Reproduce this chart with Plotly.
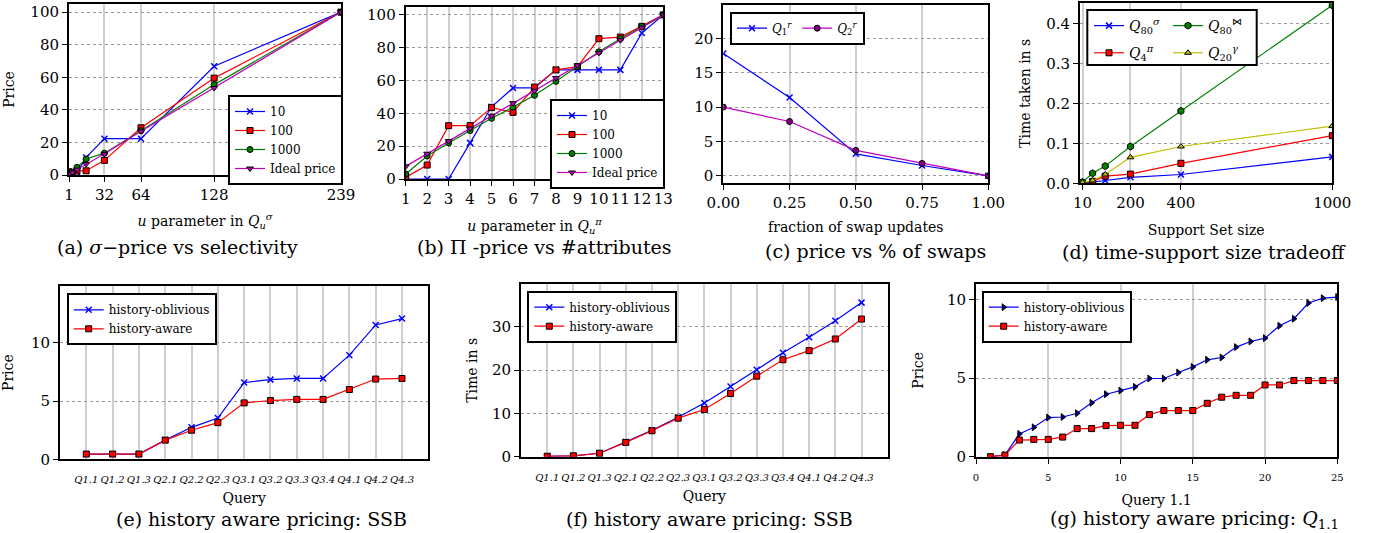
import plotly.graph_objects as go

W, H = 1375, 533
FONT = "DejaVu Serif"

# ---------------- data ----------------
# (a) sigma-price vs selectivity
a_u = [1, 4, 8, 16, 32, 64, 128, 239]
a_10 = [0.5, 0.5, 1.5, 10.8, 22.3, 22.3, 66.8, 100]
a_100 = [2.0, 1.0, 2.5, 2.6, 9.0, 29.0, 59.5, 100]
a_1000 = [1.5, 1.6, 4.7, 9.8, 13.4, 27.2, 55.5, 100]
a_ideal = [0.4, 1.6, 3.3, 6.7, 13.0, 26.8, 53.4, 100]

# (b) Pi-price vs #attributes
b_u = [1, 2, 3, 4, 5, 6, 7, 8, 9, 10, 11, 12, 13]
b_10 = [0, 0, 0, 22, 44, 55.5, 55.5, 66.5, 66.5, 66.5, 66.5, 89, 100]
b_100 = [1, 8.5, 32.5, 32.5, 43.5, 40.6, 56, 66.5, 68.5, 85.5, 86.5, 93, 100]
b_1000 = [3, 14, 22, 29.5, 37, 43.8, 51, 59.5, 68.5, 77.5, 85.5, 93, 100]
b_ideal = [7.7, 15.4, 23.1, 30.8, 38.5, 46.2, 53.8, 61.5, 69.2, 76.9, 84.6, 92.3, 100]

# (c) price vs % of swaps
c_frac = [0.0, 0.25, 0.5, 0.75, 1.0]
c_q1 = [17.8, 11.4, 3.2, 1.5, 0.0]
c_q2 = [10.0, 7.9, 3.7, 1.8, 0.0]

# (d) time-support size tradeoff
d_size = [10, 50, 100, 200, 400, 1000]
d_sigma = [0.002, 0.003, 0.007, 0.015, 0.022, 0.066]
d_pi = [0.002, 0.005, 0.018, 0.023, 0.050, 0.119]
d_join = [0.003, 0.025, 0.043, 0.092, 0.181, 0.445]
d_gamma = [0.002, 0.007, 0.022, 0.065, 0.092, 0.143]

# (e), (f) SSB queries
queries = ["Q1.1", "Q1.2", "Q1.3", "Q2.1", "Q2.2", "Q2.3", "Q3.1",
           "Q3.2", "Q3.3", "Q3.4", "Q4.1", "Q4.2", "Q4.3"]
e_obl = [0.45, 0.45, 0.45, 1.65, 2.75, 3.55, 6.6, 6.85, 6.95, 6.95, 8.95, 11.55, 12.1]
e_aw = [0.45, 0.45, 0.45, 1.65, 2.5, 3.15, 4.85, 5.05, 5.15, 5.15, 6.0, 6.9, 6.95]
f_obl = [0.1, 0.2, 0.8, 3.4, 6.1, 9.1, 12.4, 16.2, 20.1, 24.0, 27.6, 31.4, 35.6]
f_aw = [0.1, 0.2, 0.8, 3.3, 6.0, 8.9, 10.9, 14.6, 18.6, 22.4, 24.5, 27.2, 31.8]

# (g) history aware pricing Q1.1
g_q = list(range(1, 26))
g_obl = [0.0, 0.1, 1.45, 1.87, 2.49, 2.53, 2.77, 3.43, 3.98, 4.21, 4.45, 4.98, 4.98,
         5.36, 5.72, 6.17, 6.32, 6.98, 7.34, 7.55, 8.34, 8.79, 9.79, 10.1, 10.17]
g_aw = [0.0, 0.1, 1.06, 1.1, 1.1, 1.25, 1.79, 1.79, 1.98, 2.0, 2.0, 2.68, 2.94,
        2.94, 2.94, 3.4, 3.79, 3.91, 3.91, 4.57, 4.57, 4.85, 4.85, 4.85, 4.85]

# ---------------- styles ----------------
BLUE, RED, GREEN, MAG, YEL = "#0000ff", "#ff0000", "#008000", "#bf00bf", "#bfbf00"


def px_x(p):
    return p / W


def px_y(p):
    return 1 - p / H


def mk_x(color):
    return dict(mode="lines+markers", line=dict(color=color, width=1.2),
                marker=dict(symbol="x-thin", size=6, line=dict(color=color, width=1.5)))


def mk_f(color, symbol, fill=None, size=6):
    return dict(mode="lines+markers", line=dict(color=color, width=1.2),
                marker=dict(symbol=symbol, size=size, color=fill or color,
                            line=dict(color="black", width=1)))


fig = go.Figure()


def axes(n):
    return ("x" if n == 1 else f"x{n}"), ("y" if n == 1 else f"y{n}")


def add(n, x, y, name, style, legend, group=None):
    xa, ya = axes(n)
    kw = {}
    if group:
        kw["legendgroup"] = group
    fig.add_trace(go.Scatter(x=x, y=y, name=name, xaxis=xa, yaxis=ya,
                             legend=legend, **kw, **style))


# (a)
add(1, a_u, a_10, "10", mk_x(BLUE), "legend")
add(1, a_u, a_100, "100", mk_f(RED, "square"), "legend")
add(1, a_u, a_1000, "1000", mk_f(GREEN, "circle"), "legend")
add(1, a_u, a_ideal, "Ideal price", mk_f(MAG, "triangle-down"), "legend")
# (b)
add(2, b_u, b_10, "10", mk_x(BLUE), "legend2")
add(2, b_u, b_100, "100", mk_f(RED, "square"), "legend2")
add(2, b_u, b_1000, "1000", mk_f(GREEN, "circle"), "legend2")
add(2, b_u, b_ideal, "Ideal price", mk_f(MAG, "triangle-down"), "legend2")
# (c)
add(3, c_frac, c_q1, "<i>Q</i><sub>1</sub><sup><i>r</i></sup>", mk_x(BLUE), "legend3")
add(3, c_frac, c_q2, "<i>Q</i><sub>2</sub><sup><i>r</i></sup>", mk_f(MAG, "circle", "#800080"), "legend3")
# (d)
add(4, d_size, d_sigma, "<i>Q</i><sub>80</sub><sup><i>σ</i></sup>", mk_x(BLUE), "legend4", "s")
add(4, d_size, d_pi, "<i>Q</i><sub>4</sub><sup><i>π</i></sup>", mk_f(RED, "square"), "legend4", "p")
add(4, d_size, d_join, "<i>Q</i><sub>80</sub><sup>⋈</sup>", mk_f(GREEN, "hexagon", size=7), "legend5", "j")
add(4, d_size, d_gamma, "<i>Q</i><sub>20</sub><sup><i>γ</i></sup>", mk_f(YEL, "triangle-up"), "legend5", "g")
# (e)
add(5, queries, e_obl, "history-oblivious", mk_x(BLUE), "legend6")
add(5, queries, e_aw, "history-aware", mk_f(RED, "square"), "legend6")
# (f)
add(6, queries, f_obl, "history-oblivious", mk_x(BLUE), "legend7")
add(6, queries, f_aw, "history-aware", mk_f(RED, "square"), "legend7")
# (g)
add(7, g_q, g_obl, "history-oblivious", mk_f(BLUE, "triangle-right", "#000080"), "legend8")
add(7, g_q, g_aw, "history-aware", mk_f(RED, "square"), "legend8")

# ---------------- axes ----------------
tickf = dict(family=FONT, size=15, color="black")
titlef = dict(family=FONT, size=14, color="black")
common = dict(showline=True, mirror=True, linecolor="black", linewidth=2,
              ticks="outside", ticklen=5, tickwidth=1.2, tickcolor="black",
              zeroline=False, tickfont=tickf, title_font=titlef,
              automargin=False, tickangle=0)
xgrid = dict(showgrid=True, gridcolor="#cfcfcf", gridwidth=1.5)
ygrid = dict(showgrid=True, gridcolor="#999999", gridwidth=1, griddash="dot")

boxes = {
    1: (69, 341, 4, 175),
    2: (405.7, 663.3, 6.7, 179),
    3: (723.3, 988.3, 4.7, 182.7),
    4: (1080, 1332.3, 3.3, 183.3),
    5: (60, 428.3, 286, 459.3),
    6: (521, 887.7, 284, 456.7),
    7: (976, 1337.3, 284, 456.7),
}

small_it = dict(family=FONT, size=10, color="black", style="italic")
xcfg = {
    1: dict(range=[1, 239], tickvals=[1, 32, 64, 128, 239],
            title=dict(text="<i>u</i> parameter in <i>Q</i><sub><i>u</i></sub><sup><i>σ</i></sup>", standoff=13)),
    2: dict(range=[1, 13], dtick=1,
            title=dict(text="<i>u</i> parameter in <i>Q</i><sub><i>u</i></sub><sup><i>π</i></sup>", standoff=14)),
    3: dict(range=[0, 1], tickvals=[0, 0.25, 0.5, 0.75, 1.0], tickformat=".2f",
            title=dict(text="fraction of swap updates", standoff=11)),
    4: dict(range=[0, 1000], tickvals=[10, 200, 400, 1000],
            title=dict(text="Support Set size", standoff=14)),
    5: dict(type="category", range=[-1, 13], ticks="", ticklabelstandoff=10,
            tickfont=small_it, title=dict(text="Query", standoff=9)),
    6: dict(type="category", range=[-1, 13], ticks="", ticklabelstandoff=10,
            tickfont=small_it, title=dict(text="Query", standoff=9)),
    7: dict(range=[0, 25], dtick=5, ticklabelstandoff=5,
            tickfont=dict(family=FONT, size=10, color="black"),
            title=dict(text="Query 1.1", standoff=13)),
}
ycfg = {
    1: dict(range=[0, 105], dtick=20, title=dict(text="Price", standoff=12)),
    2: dict(range=[0, 105], dtick=20),
    3: dict(range=[-1, 24.9], dtick=5),
    4: dict(range=[0, 0.45], dtick=0.1, tickformat=".1f",
            title=dict(text="Time taken in s", standoff=12)),
    5: dict(range=[0, 14.9], dtick=5, title=dict(text="Price", standoff=20)),
    6: dict(range=[0, 39.9], dtick=10, title=dict(text="Time in s", standoff=11)),
    7: dict(range=[0, 11], dtick=5, title=dict(text="Price", standoff=20)),
}

layout_axes = {}
for n, (x0, x1, y0, y1) in boxes.items():
    xa, ya = axes(n)
    xname = "xaxis" if n == 1 else f"xaxis{n}"
    yname = "yaxis" if n == 1 else f"yaxis{n}"
    xd = dict(common); xd.update(xgrid); xd.update(xcfg[n])
    xd.update(domain=[px_x(x0), px_x(x1)], anchor=ya)
    yd = dict(common); yd.update(ygrid); yd.update(ycfg[n])
    yd.update(domain=[px_y(y1), px_y(y0)], anchor=xa)
    layout_axes[xname] = xd
    layout_axes[yname] = yd

fig.update_layout(template="none", **layout_axes)

# ---------------- legends ----------------


def leg(x, y, border=True, orientation="v", size=12, gap=0):
    d = dict(x=px_x(x), y=px_y(y), xanchor="left", yanchor="top",
             font=dict(family=FONT, size=size, color="black"),
             orientation=orientation, itemwidth=30,
             bgcolor="white" if border else "rgba(0,0,0,0)",
             bordercolor="black", borderwidth=2 if border else 0,
             tracegroupgap=gap)
    return d


fig.update_layout(
    legend=leg(228, 95),
    legend2=leg(550, 99),
    legend3=leg(730, 11.7, orientation="h"),
    legend4=leg(1089, 10, border=False, size=14, gap=6),
    legend5=leg(1168, 10, border=False, size=14, gap=6),
    legend6=leg(66.7, 293.3),
    legend7=leg(527.3, 290.7),
    legend8=leg(981.7, 290.7),
)

fig.add_shape(type="rect", xref="paper", yref="paper",
              x0=px_x(1087.3), x1=px_x(1256.7), y0=px_y(65), y1=px_y(10),
              line=dict(color="black", width=2), fillcolor="white", layer="above")

# ---------------- captions ----------------
captions = [
    (177, 247, "(a) <i>σ</i>−price vs selectivity"),
    (544, 247, "(b) Π -price vs #attributes"),
    (875, 251, "(c) price vs % of swaps"),
    (1204, 252, "(d) time-support size tradeoff"),
    (261, 519, "(e) history aware pricing: SSB"),
    (709, 519, "(f) history aware pricing: SSB"),
    (1194, 519, "(g) history aware pricing: <i>Q</i><sub>1.1</sub>"),
]
for cx, cy, txt in captions:
    fig.add_annotation(x=px_x(cx), y=px_y(cy), xref="paper", yref="paper",
                       text=txt, showarrow=False, xanchor="center", yanchor="middle",
                       font=dict(family=FONT, size=19, color="black"))

fig.update_layout(width=W, height=H, margin=dict(l=0, r=0, t=0, b=0, pad=0),
                  paper_bgcolor="white", plot_bgcolor="white", showlegend=True)

fig.write_html("out.html", config={"displayModeBar": False},
               post_script="document.body.style.margin='0';document.body.style.overflow='hidden';")
